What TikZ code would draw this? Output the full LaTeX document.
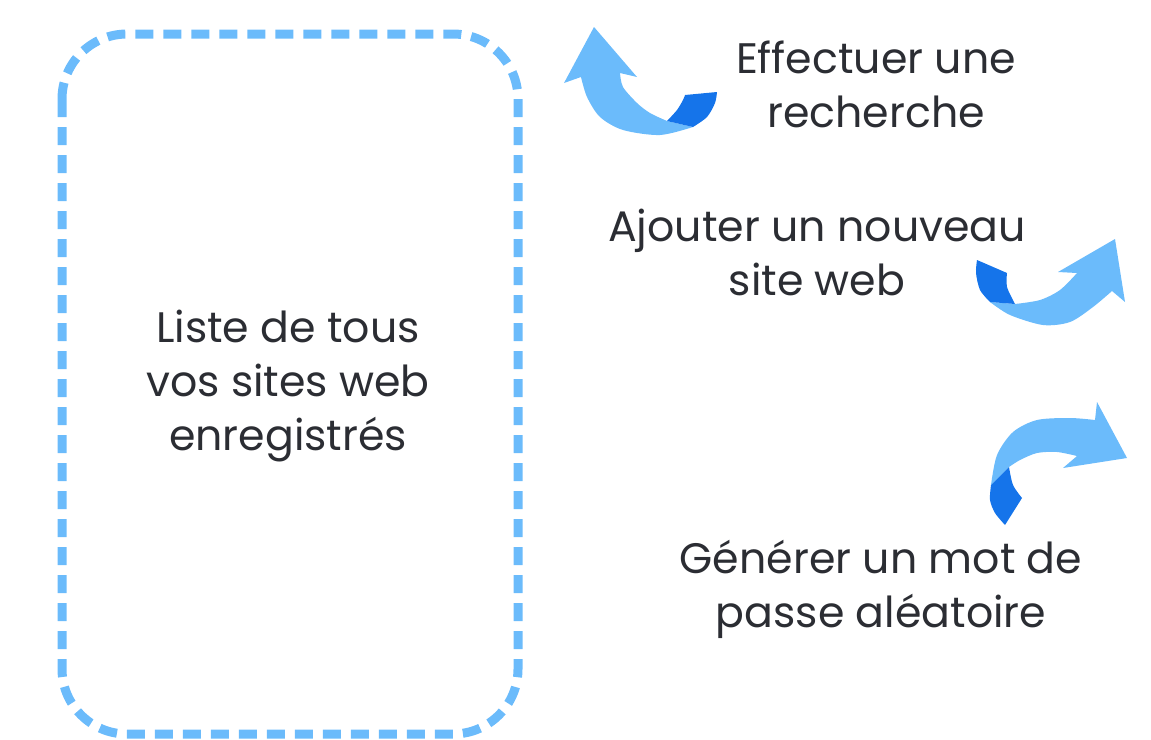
\documentclass[tikz,border=0pt]{standalone}
\usepackage{fontspec}
\setmainfont{Poppins}
\definecolor{framecol}{HTML}{6BBBFB}
\definecolor{arrowlight}{HTML}{6BBBFB}
\definecolor{arrowdark}{HTML}{1574EA}
\definecolor{textgray}{HTML}{2B2D33}
\tikzset{every picture/.style={line width=0.75pt}}
\tikzset{label text/.style={text=textgray, align=center, inner sep=0pt, font=\fontsize{32}{40.5}\selectfont}}

\begin{document}
\begin{tikzpicture}[x=0.75pt,y=0.75pt,yscale=-1,xscale=1]
\useasboundingbox (0,0) rectangle (1151,739);

%Shape: Rounded Rect [list frame]
\draw [color=framecol, line width=6.75pt, dash pattern=on 13.5pt off 7.5pt, rounded corners=48.75pt] (62,34) rectangle (518,734) ;

%Shape: Curved Arrow [search]
\fill [arrowlight] (581,77) -- plot [smooth] coordinates {(581,77) (587,97) (600,117) (623,130) (660,135) (693,127)} -- (667,121) -- plot [smooth] coordinates {(667,121) (650,113) (637,103) (623,87) (620,73)} -- (637,77) -- (594,27) -- (564,83) -- cycle ;
\fill [arrowdark] (667,121) -- plot [smooth] coordinates {(667,121) (677,110) (683,100) (685,95)} -- (717,92) -- plot [smooth] coordinates {(717,92) (715,103) (707,117) (693,127)} -- cycle ;

%Shape: Curved Arrow [add]
\fill [arrowlight] (990,302) -- plot [smooth] coordinates {(990,302) (1010,315) (1043,325) (1070,322) (1093,307) (1112,291)} -- (1125,302) -- (1115,239) -- (1058,272) -- (1077,273) -- plot [smooth] coordinates {(1077,273) (1060,290) (1040,300) (1015,304)} -- cycle ;
\fill [arrowdark] (977,260) -- plot [smooth] coordinates {(977,260) (976,273) (980,290) (990,302)} -- (1015,304) -- plot [smooth] coordinates {(1015,304) (1007,287) (1007,273)} -- cycle ;

%Shape: Curved Arrow [generate]
\fill [arrowlight] (1009,467) -- (991,485) -- plot [smooth] coordinates {(991,485) (997,455) (1013,432) (1037,420) (1070,418) (1095,420)} -- (1097,402) -- (1127,458) -- (1063,468) -- (1077,456) -- plot [smooth] coordinates {(1077,456) (1057,452) (1037,453) (1020,460) (1009,467)} -- cycle ;
\fill [arrowdark] (991,485) -- plot [smooth] coordinates {(991,485) (990,500) (995,513) (1005,525)} -- (1022,498) -- plot [smooth] coordinates {(1022,498) (1013,485) (1009,467)} -- cycle ;

% Text Node
\node [label text] (list) at (288,386) {Liste de tous\\vos sites web\\enregistrés};
% Text Node
\node [label text] (search) at (876,84) {Effectuer une\\recherche};
% Text Node
\node [label text] (add) at (817,252) {Ajouter un nouveau\\site web};
% Text Node
\node [label text] (generate) at (881,589) {Générer un mot de\\passe aléatoire};

\end{tikzpicture}
\end{document}
